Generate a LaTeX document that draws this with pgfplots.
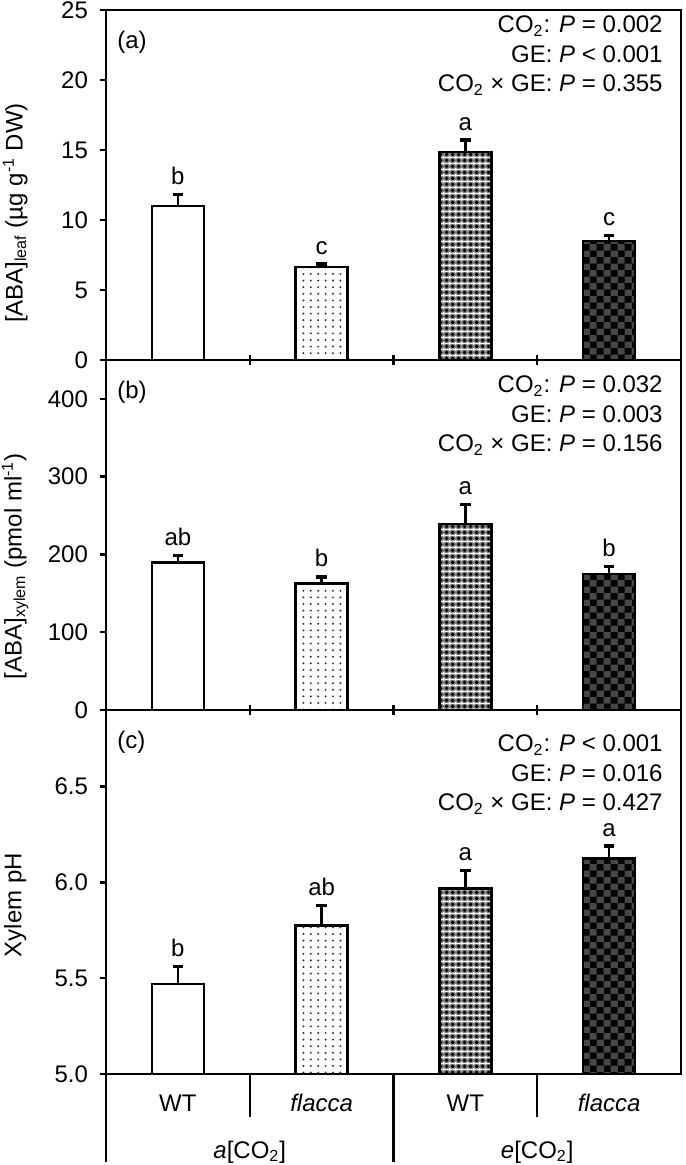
\documentclass[border=0pt]{standalone}
\usepackage{fontspec}
\setmainfont{Liberation Sans}
\usepackage{pgfplots}
\pgfplotsset{compat=1.18}
\usetikzlibrary{patterns}

% patterns
\pgfdeclarepatternformonly{mydots}{\pgfqpoint{-1pt}{-1pt}}{\pgfqpoint{1pt}{1pt}}{\pgfqpoint{3.7pt}{3.3pt}}{%
  \pgfpathcircle{\pgfpointorigin}{0.55pt}\pgfusepath{fill}}
\pgfdeclarepatterninherentlycolored{mydiamond}{\pgfpointorigin}{\pgfqpoint{3pt}{3pt}}{\pgfqpoint{3pt}{3pt}}{%
  \pgfsetfillcolor{black!50}\pgfpathrectangle{\pgfpointorigin}{\pgfqpoint{3pt}{3pt}}\pgfusepath{fill}%
  \pgfsetfillcolor{black}\pgfpathcircle{\pgfqpoint{1.5pt}{1.5pt}}{1.05pt}\pgfusepath{fill}%
  \pgfsetfillcolor{white}\pgfpathcircle{\pgfqpoint{0pt}{0pt}}{0.45pt}\pgfusepath{fill}%
  \pgfpathcircle{\pgfqpoint{3pt}{0pt}}{0.45pt}\pgfusepath{fill}%
  \pgfpathcircle{\pgfqpoint{0pt}{3pt}}{0.45pt}\pgfusepath{fill}%
  \pgfpathcircle{\pgfqpoint{3pt}{3pt}}{0.45pt}\pgfusepath{fill}}
\pgfdeclarepatterninherentlycolored{mychecker}{\pgfpointorigin}{\pgfqpoint{6.7pt}{6.7pt}}{\pgfqpoint{6.7pt}{6.7pt}}{%
  \pgfsetfillcolor{black!72}\pgfpathrectangle{\pgfpointorigin}{\pgfqpoint{6.7pt}{6.7pt}}\pgfusepath{fill}%
  \pgfsetfillcolor{black}\pgfpathrectangle{\pgfpointorigin}{\pgfqpoint{3.35pt}{3.35pt}}%
  \pgfpathrectangle{\pgfqpoint{3.35pt}{3.35pt}}{\pgfqpoint{3.35pt}{3.35pt}}\pgfusepath{fill}}

\newcommand{\fs}{\fontsize{12}{14.75}\selectfont}

\pgfplotsset{
  panel/.style={
    scale only axis, width=287.5pt,
    xmin=-0.5, xmax=3.5,
    axis line style={line width=1.2pt},
    every tick/.style={black, line width=1.2pt},
    ytick align=outside, ytick pos=left, xtick pos=bottom,
    major tick length=3pt,
    /pgf/number format/assume math mode=true,
    tick label style={font=\fs},
    yticklabel style={xshift=-2.5pt},
    ylabel style={font=\fs, anchor=center},
    clip mode=individual,
  },
  sepx/.style={xtick=\empty, extra x ticks={0.5,1.5,2.5}, extra x tick labels={},
    extra tick style={major tick length=5pt, xtick align=center}},
  bar/.style={ybar, bar width=26pt, bar shift=0pt, draw=black, line width=1.3pt,
    error bars/y dir=plus, error bars/y explicit,
    error bars/error bar style={line width=1.3pt, black, solid},
    error bars/error mark options={rotate=90, mark size=2.6pt, line width=1.6pt, black}},
  b1/.style={bar, fill=white},
  b2/.style={bar, pattern=mydots, pattern color=black!80},
  b3/.style={bar, pattern=mydiamond},
  b4/.style={bar, pattern=mychecker},
  letters/.style={draw=none, mark=none, nodes near coords, point meta=explicit symbolic,
    nodes near coords style={anchor=base, yshift=5pt, font=\fs, black}},
}

\begin{document}
\begin{tikzpicture}
\useasboundingbox (-53pt,-45.5pt) rectangle (289.5pt,537pt);

% ---------------- panel (a)
\begin{axis}[panel, sepx, at={(0,357pt)}, anchor=south west, height=175pt,
  ymin=0, ymax=25, ytick={0,5,10,15,20,25},
  ylabel={[ABA]\textsubscript{leaf} (µg g\textsuperscript{-1} DW)},
  ylabel style={at={(axis description cs:-0.158,0.42)}}]
\addplot[b1] coordinates {(0,11.0) +- (0,0.8)};
\addplot[b2] coordinates {(1,6.65) +- (0,0.2)};
\addplot[b3] coordinates {(2,14.86) +- (0,0.85)};
\addplot[b4] coordinates {(3,8.5) +- (0,0.4)};
\addplot[letters] table[meta=lab] {
x y lab
0 11.8 b
1 6.85 c
2 15.71 a
3 8.9 c
};
\node[anchor=west, font=\fs, inner sep=0pt] at (rel axis cs:0,1) [xshift=5.5pt, yshift=-16pt] {(a)};
\node[anchor=north east, align=right, font=\fs, inner sep=0pt] at (rel axis cs:1,1) [xshift=-9pt, yshift=-2.7pt]
 {CO\textsubscript{2}: \textit{P} = 0.002\\GE: \textit{P} < 0.001\\CO\textsubscript{2} × GE: \textit{P} = 0.355};
\end{axis}

% ---------------- panel (b)
\begin{axis}[panel, sepx, at={(0,182pt)}, anchor=south west, height=175pt,
  ymin=0, ymax=450, ytick={0,100,200,300,400},
  ylabel={[ABA]\textsubscript{xylem} (pmol ml\textsuperscript{-1})},
  ylabel style={at={(axis description cs:-0.158,0.411)}}]
\addplot[b1] coordinates {(0,190) +- (0,9)};
\addplot[b2] coordinates {(1,163) +- (0,8)};
\addplot[b3] coordinates {(2,239) +- (0,25)};
\addplot[b4] coordinates {(3,175) +- (0,9)};
\addplot[letters] table[meta=lab] {
x y lab
0 199 ab
1 171 b
2 264 a
3 184 b
};
\node[anchor=west, font=\fs, inner sep=0pt] at (rel axis cs:0,1) [xshift=5.5pt, yshift=-16pt] {(b)};
\node[anchor=north east, align=right, font=\fs, inner sep=0pt] at (rel axis cs:1,1) [xshift=-9pt, yshift=-7.7pt]
 {CO\textsubscript{2}: \textit{P} = 0.032\\GE: \textit{P} = 0.003\\CO\textsubscript{2} × GE: \textit{P} = 0.156};
\end{axis}

% ---------------- panel (c)
\begin{axis}[panel, at={(0,0)}, anchor=south west, height=182pt,
  ymin=5, ymax=6.9, ytick={5,5.5,6,6.5},
  yticklabel style={/pgf/number format/.cd, fixed, fixed zerofill, precision=1},
  xtick={0,1,2,3}, xticklabels={WT,\textit{flacca},WT,\textit{flacca}},
  xtick style={draw=none},
  xticklabel style={anchor=center, yshift=-14.5pt},
  ylabel={Xylem pH},
  ylabel style={at={(axis description cs:-0.158,0.464)}}]
\addplot[b1] coordinates {(0,5.47) +- (0,0.09)};
\addplot[b2] coordinates {(1,5.774) +- (0,0.105)};
\addplot[b3] coordinates {(2,5.967) +- (0,0.095)};
\addplot[b4] coordinates {(3,6.124) +- (0,0.066)};
\addplot[letters] table[meta=lab] {
x y lab
0 5.56 b
1 5.879 ab
2 6.062 a
3 6.19 a
};
\node[anchor=west, font=\fs, inner sep=0pt] at (rel axis cs:0,1) [xshift=5.5pt, yshift=-16pt] {(c)};
\node[anchor=north east, align=right, font=\fs, inner sep=0pt] at (rel axis cs:1,1) [xshift=-9pt, yshift=-12.2pt]
 {CO\textsubscript{2}: \textit{P} < 0.001\\GE: \textit{P} = 0.016\\CO\textsubscript{2} × GE: \textit{P} = 0.427};
\draw[line width=1.2pt] (axis cs:0.5,5) -- ++(0pt,-21.5pt);
\draw[line width=1.2pt] (axis cs:2.5,5) -- ++(0pt,-21.5pt);
\draw[line width=1.2pt] (axis cs:-0.5,5) -- ++(0pt,-44pt);
\draw[line width=1.2pt] (axis cs:1.5,5) -- ++(0pt,-44pt);
\node[font=\fs] at (axis cs:0.5,5) [yshift=-39pt] {\textit{a}[CO\textsubscript{2}]};
\node[font=\fs] at (axis cs:2.5,5) [yshift=-39pt] {\textit{e}[CO\textsubscript{2}]};
\end{axis}
\end{tikzpicture}
\end{document}
